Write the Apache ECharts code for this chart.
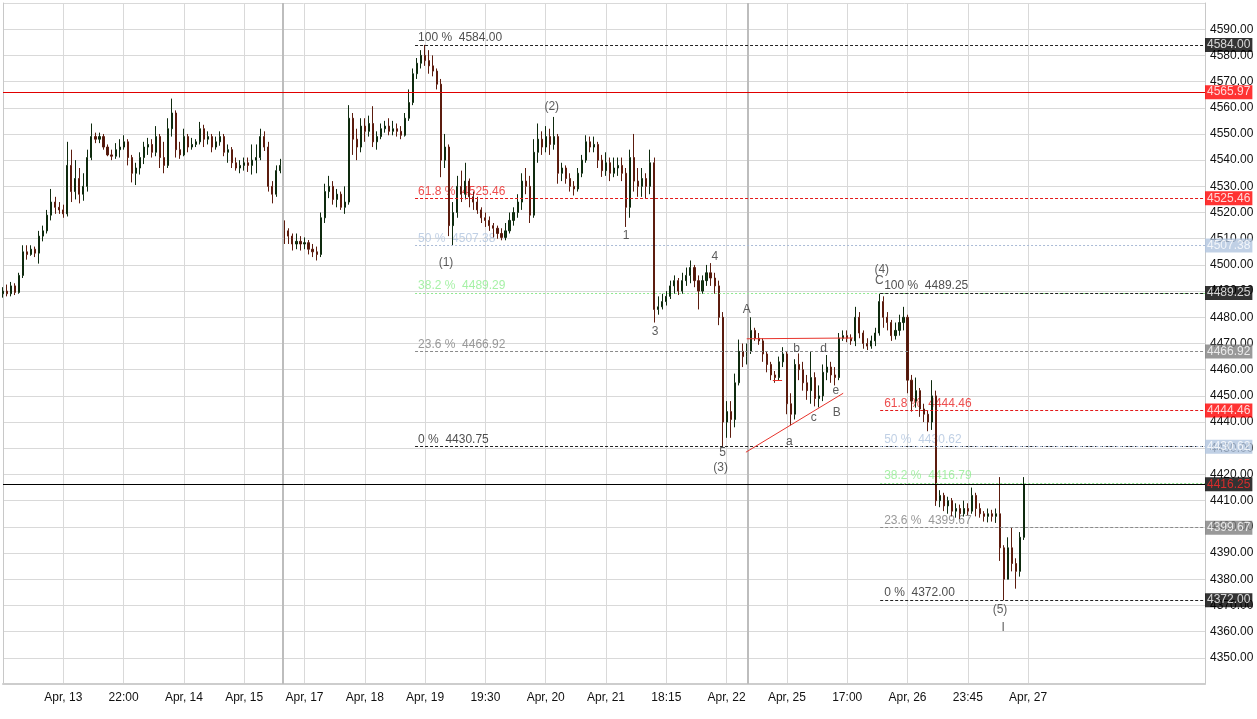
<!DOCTYPE html>
<html><head><meta charset="utf-8">
<script src="https://cdn.jsdelivr.net/npm/echarts@6.0.0/dist/echarts.min.js"></script>
<style>html,body{margin:0;padding:0;background:#fff;}#chart{width:1257px;height:719px;}</style>
</head><body><div id="chart"></div>
<script>
// ---- candle values (open, close, low, high), one bar per slot ----
const opens = [
4489,4490,4489,4492,4489.5,4496,4505,4504,4506,4504.5,
4511,4513,4519,4524,4522,4521,4519.5,4538,4528,4533,
4527,4530,4541,4549,4548,4549,4545,4542,4541.5,4544,
4545,4547,4541,4535,4537,4541,4545,4546,4543,4549,
4541,4538,4552,4558,4544,4542,4549,4545,4546,4547,
4552,4548,4549,4545,4547,4549,4543,4544,4539,4537,
4538,4539,4538,4540,4541,4549,4545,4530,4527,4536,
4516,4513,4511,4508,4509,4508,4508.5,4506,4505,4504,
4518,4528,4530,4525,4527,4522,4524,4556,4548,4545,
4553,4551,4554,4547,4549,4552,4553,4551,4552,4551,
4549.5,4556,4562,4573,4577,4580,4578,4576,4574,4569,
4540,4545,4515,4520,4530,4527,4532,4526,4524,4521,
4518,4517,4515,4514,4512,4510.5,4513,4517,4520,4524,
4532,4530,4519,4543,4548,4545,4549,4546,4549,4535,
4537,4533,4530,4529,4535,4540,4547,4545,4546,4540,
4536,4539,4535,4537,4538,4535,4522,4541,4532,4530,
4533,4530,4539,4483,4484,4486,4488,4492,4494,4490,
4494,4496,4499,4494,4490,4494,4497,4495,4492,4480,
4440,4444,4441,4455,4467,4465,4467,4475,4472,4471,
4466,4462,4458,4457,4463,4466,4447,4443,4462,4460,
4455,4452,4457,4449,4450,4459,4461,4458,4457,4472,
4473,4472,4471,4480,4474,4470,4469,4471,4474,4486,
4480,4478,4473,4475,4478,4480,4456,4448,4452,4445,
4443,4440,4450,4410,4412,4408,4410,4406,4407,4405,
4407,4406,4412,4407,4405,4404,4405,4404,4405,4392,
4380,4392,4386,4383,4396];
const closes = [
4490,4489,4492,4489.5,4496,4505,4504,4506,4504.5,4511,
4513,4519,4524,4522,4521,4519.5,4538,4528,4533,4527,
4530,4541,4549,4548,4549,4545,4542,4541.5,4544,4545,
4547,4541,4535,4537,4541,4545,4546,4543,4549,4541,
4538,4552,4558,4544,4542,4549,4545,4546,4547,4552,
4548,4549,4545,4547,4549,4543,4544,4539,4537,4538,
4539,4538,4540,4541,4549,4545,4530,4527,4536,4538,
4513,4511,4508,4509,4508,4508.5,4506,4505,4504,4518,
4528,4530,4525,4527,4522,4524,4556,4548,4545,4553,
4551,4554,4547,4549,4552,4553,4551,4552,4551,4549.5,
4556,4562,4573,4577,4580,4578,4576,4574,4569,4540,
4545,4515,4520,4530,4527,4532,4526,4524,4521,4518,
4517,4515,4514,4512,4510.5,4513,4517,4520,4524,4532,
4530,4519,4543,4548,4545,4549,4546,4549,4535,4537,
4533,4530,4529,4535,4540,4547,4545,4546,4540,4536,
4539,4535,4537,4538,4535,4522,4541,4532,4530,4533,
4530,4539,4483,4484,4486,4488,4492,4494,4490,4494,
4496,4499,4494,4490,4494,4497,4495,4492,4480,4440,
4444,4441,4455,4467,4465,4467,4475,4472,4471,4466,
4462,4458,4457,4463,4466,4447,4443,4462,4460,4455,
4452,4457,4449,4450,4459,4461,4458,4457,4472,4473,
4472,4471,4480,4474,4470,4469,4471,4474,4486,4480,
4478,4473,4475,4478,4480,4456,4448,4452,4445,4443,
4440,4450,4410,4412,4408,4410,4406,4407,4405,4407,
4406,4412,4407,4405,4404,4405,4404,4405,4392,4380,
4392,4386,4383,4396,4416.25];
const lows = [
4487.5,4488,4488,4488.5,4489,4495,4502,4503.5,4503,4500.5,
4509,4512,4517,4519.5,4519.5,4518,4518.5,4524,4525,4523.5,
4524.5,4528,4540,4546.5,4546.5,4544,4541.5,4540,4540.5,4541,
4544,4538,4531.5,4530.5,4534.5,4538.5,4542,4541,4541.5,4537,
4535,4537,4549,4541,4540.5,4541.5,4543,4544,4545,4546,
4545,4546,4543,4544,4545.5,4541.5,4539,4537,4536,4535,
4536,4535.5,4534.5,4535,4540,4543.5,4528,4523.5,4526,4535,
4508,4508,4505.5,4506,4505.5,4506,4504,4503,4501.7,4503,
4516,4525.5,4523,4522,4521,4519.5,4523,4542,4540,4543,
4547,4549,4545,4544,4548,4550.5,4549.5,4549.5,4549,4548,
4549,4555,4561,4571,4575,4576,4573,4572,4567,4533.5,
4537,4511,4507.4,4518,4524,4525,4522,4521,4519.5,4516,
4514.5,4513,4510.5,4510,4509.4,4509.4,4512,4515,4518,4521,
4527,4516,4518,4539,4542,4543,4542,4544,4531,4532,
4531,4528,4526.5,4528,4533.5,4539,4543,4543,4537,4533.6,
4534,4532,4533.5,4534,4532,4514.5,4518,4528,4526,4526,
4525.5,4527,4478,4481,4483,4484.5,4487,4489,4488.5,4489,
4492,4493,4491.5,4483,4489,4492,4492,4489,4477,4430.75,
4434,4434,4438,4454,4461,4462,4466,4471,4469.5,4463,
4459,4456,4455,4456,4461,4443,4438.7,4441,4456,4452,
4448.5,4447,4446,4445.6,4448,4456,4455,4454,4456,4471,
4470.5,4469.5,4469,4472,4468,4467.5,4468,4469,4473,4476,
4475,4471,4471.5,4473,4475,4451,4444,4445.5,4442,4440,
4436.5,4437,4408,4407.5,4406,4405,4404,4403.5,4403,4404,
4404.5,4405,4404,4403.5,4402,4401.7,4402,4401.5,4387,4372,
4380,4383,4376.4,4381,4395];
const highs = [
4491.5,4492.5,4493.5,4493,4497,4507.5,4507.5,4507.5,4507,4513,
4515,4521,4529,4526,4524,4523,4547,4544,4540,4537,
4535,4544,4554,4550.5,4550.5,4550,4546,4544,4546.5,4548,
4549.5,4548,4542,4539,4543,4547,4548.5,4548,4553,4550,
4547,4556,4563.5,4559,4547,4552,4550,4548.5,4548,4554.6,
4553.5,4551,4550,4549,4551,4550,4546,4545,4541,4540,
4541,4541,4546,4546,4552,4551,4547,4532,4538,4540.5,
4517,4514,4512,4512,4511,4510.5,4509.5,4508,4507,4520,
4531,4534,4532,4529,4528,4530,4561,4558,4552,4556,
4556,4557,4560.6,4551,4554,4555,4556,4555,4554,4553,
4558,4567,4575,4579,4582,4584,4582,4580,4575,4571,
4550,4546,4524,4534,4536,4539,4533,4528,4526,4522,
4520,4518.5,4516,4515,4514,4516,4520,4522,4527,4535,
4537,4534,4548,4554,4551,4553,4552,4556.5,4550,4539,
4538,4535,4532,4537,4542,4549.5,4549,4549,4547,4542,
4543,4541,4541,4541,4541,4537,4544,4550,4537,4537,
4535,4544,4541,4488,4489,4490,4494,4496,4495,4497,
4499,4501.7,4500,4496,4496,4500,4500.7,4497,4494,4482,
4448,4448,4458.5,4471.5,4470,4470,4480,4476,4474,4472,
4467,4463,4459.5,4465,4468.6,4467,4451,4464,4466.2,4463,
4458,4467,4459,4454,4462,4465.6,4463,4461,4474,4475,
4475,4473.5,4484,4482,4475,4472,4473,4476,4489.25,4488,
4482,4479,4478,4481,4484,4481,4458,4457,4453,4447,
4444.5,4456,4452,4414,4413,4411.5,4411,4409,4408.5,4410,
4409,4415,4413,4409,4406,4407,4406.5,4407,4419,4393,
4396,4399.6,4388,4398,4419];

// ---- time axis ----
const slotCount = 300;
const tickIndex = [15,30,45,60,75,90,105,120,135,150,165,180,195,210,225,240,255];
const tickLabels = ['Apr, 13','22:00','Apr, 14','Apr, 15','Apr, 17','Apr, 18','Apr, 19','19:30','Apr, 20','Apr, 21','18:15','Apr, 22','Apr, 25','17:00','Apr, 26','23:45','Apr, 27'];
const sessionBreaks = [69.5, 185.3];

// ---- levels ----
const resistance = 4565.97;
const lastPrice = 4416.25;
const fibPct = ['100','61.8','50','38.2','23.6','0'];
const fibSet1 = [4584.00, 4525.46, 4507.38, 4489.29, 4466.92, 4430.75];
const fibSet2 = [4489.25, 4444.46, 4430.62, 4416.79, 4399.67, 4372.00];
const fibStart1 = 102.5, fibStart2 = 218.2;
const fibLineColor = ['#222222','#e31a1a','#aabbd6','#90e890','#8a8a8a','#222222'];
const fibTextColor = ['#222222','#e82020','#b0c4de','#90ee90','#808080','#222222'];
const fibDash = [[3,2],[3,2],[2,2],[2,2],[3,2],[3,2]];

const priceTags = [4584.00, 4565.97, 4525.46, 4507.38, 4489.25, 4466.92, 4444.46, 4430.62, 4416.25, 4399.67, 4372.00];
const tagBg = ['#000000','#ff0000','#ff0000','#b0c4de','#000000','#808080','#ff0000','#b0c4de','#000000','#808080','#000000'];
const tagFg = ['#ffffff','#ffffff','#ffffff','#ffffff','#ffffff','#ffffff','#ffffff','#ffffff','#ff2a2a','#ffffff','#ffffff'];

// ---- wave annotations ----
const waveText = ['(1)','(2)','1','3','4','5','(3)','A','a','b','c','d','e','B','(4)','C','(5)','I'];
const waveX = [110.2,136.5,155.0,162.2,177.1,179.0,178.5,185.0,195.6,197.4,201.7,204.1,207.2,207.4,218.6,218.0,248.0,248.8];
const waveY = [4500.85,4560.3,4511.3,4474.7,4503.3,4428.5,4422.5,4482.9,4432.7,4468.0,4441.6,4468.0,4451.8,4443.4,4498.2,4494.1,4368.3,4361.6];
const trendFrom = [[185.0,4471.8],[191.5,4455.9],[184.8,4428.5]];
const trendTo = [[211.4,4472.1],[193.8,4455.9],[209.0,4451.0]];

// ---- build ----
const FONT = 'Liberation Sans, Arial, sans-serif';
const categories = [];
for (let i = 0; i < slotCount; i++) categories.push(String(i));
const candleData = opens.map((o, i) => [o, closes[i], lows[i], highs[i]]);

const levelLines = [];
levelLines.push({yAxis: resistance, lineStyle:{color:'#e00000', type:'solid', width:1}});
levelLines.push({yAxis: lastPrice, lineStyle:{color:'#000000', type:'solid', width:1}});
function addFib(set, start) {
  set.forEach((v, k) => {
    levelLines.push([
      {coord:[start, v], lineStyle:{color: fibLineColor[k], type: fibDash[k], width:1}},
      {coord:[slotCount - 1, v]}
    ]);
  });
}
addFib(fibSet1, fibStart1);
addFib(fibSet2, fibStart2);
trendFrom.forEach((p, k) => {
  levelLines.push([{coord:p, lineStyle:{color:'#e8342c', type:'solid', width:1}}, {coord:trendTo[k]}]);
});

const fibTexts = [];
function addFibText(set, start, dist) {
  set.forEach((v, k) => {
    fibTexts.push({value:[start, v], label:{formatter: fibPct[k] + ' %  ' + v.toFixed(2), color: fibTextColor[k], distance: dist}});
  });
}
addFibText(fibSet1, fibStart1, 3);
addFibText(fibSet2, fibStart2, 4);

const waveData = waveText.map((t, k) => ({value:[waveX[k], waveY[k]], name:t}));
const tagData = priceTags.map((v, k) => ({value:[slotCount - 1, v], label:{backgroundColor: tagBg[k], color: tagFg[k]}}));

const chart = echarts.init(document.getElementById('chart'), null, {renderer:'canvas'});
chart.setOption({
  animation:false,
  backgroundColor:'#ffffff',
  textStyle:{fontFamily: FONT},
  grid:{left:3, right:52, top:3, bottom:35, containLabel:false, outerBoundsMode:'none'},
  xAxis:[{
    type:'category', data:categories, boundaryGap:false,
    axisLine:{show:true, onZero:false, lineStyle:{color:'#cdcdcd', width:2}},
    axisTick:{show:false},
    axisLabel:{interval:(i)=>tickIndex.indexOf(i) >= 0, formatter:(v, i)=>{const k = tickIndex.indexOf(Number(v)); return k >= 0 ? tickLabels[k] : '';}, color:'#111', fontSize:12, fontFamily:FONT, margin:8},
    splitLine:{show:true, interval:(i)=>tickIndex.indexOf(i) >= 0, lineStyle:{color:'#d9d9d9', width:1}}
  },{
    type:'value', min:0, max:slotCount - 1, show:false
  }],
  yAxis:[{
    type:'value', position:'right', min:4340, max:4600, interval:10, scale:true,
    axisLine:{show:true, onZero:false, lineStyle:{color:'#c8c8c8'}},
    axisTick:{show:false},
    axisLabel:{color:'#111', fontSize:12, fontFamily:FONT, margin:5, showMinLabel:false, showMaxLabel:false, formatter:(v)=>v.toFixed(2)},
    splitLine:{show:true, lineStyle:{color:'#d9d9d9', width:1}}
  },{
    type:'value', position:'left', min:4340, max:4600, scale:true,
    axisLine:{show:true, onZero:false, lineStyle:{color:'#c8c8c8'}},
    axisTick:{show:false}, axisLabel:{show:false}, splitLine:{show:false}
  }],
  series:[
    {
      name:'breaks', type:'scatter', xAxisIndex:1, yAxisIndex:0, z:1, symbolSize:0, data:[[0, 4340]], silent:true,
      markLine:{symbol:['none','none'], silent:true, label:{show:false},
        data: sessionBreaks.map(b => ({xAxis:b, lineStyle:{color:'#bdbdbd', width:2, type:'solid'}}))}
    },
    {
      name:'fibText', type:'scatter', xAxisIndex:1, yAxisIndex:0, z:1, symbolSize:0, silent:true,
      data: fibTexts,
      label:{show:true, position:'right', offset:[0,-7], fontSize:12, fontFamily:FONT}
    },
    {
      name:'price', type:'candlestick', xAxisIndex:0, yAxisIndex:0, z:3, data:candleData,
      barWidth:1.6,
      itemStyle:{color:'#163a16', color0:'#4a170c', borderColor:'#0e2a0e', borderColor0:'#5c1c0e', borderWidth:1}
    },
    {
      name:'levels', type:'scatter', xAxisIndex:1, yAxisIndex:0, z:4, symbolSize:0, data:[[0, 4340]], silent:true,
      markLine:{symbol:['none','none'], silent:true, label:{show:false}, data: levelLines}
    },
    {
      name:'waves', type:'scatter', xAxisIndex:1, yAxisIndex:0, z:5, symbolSize:0, silent:true,
      data: waveData,
      label:{show:true, position:'inside', formatter:(p)=>p.name, color:'#333333', fontSize:12, fontFamily:FONT}
    },
    {
      name:'tags', type:'scatter', xAxisIndex:1, yAxisIndex:0, z:10, symbolSize:0, silent:true, clip:false,
      data: tagData,
      label:{show:true, position:'right', distance:0, formatter:(p)=>p.value[1].toFixed(2), fontSize:12, fontFamily:FONT, padding:[1,2,0,2], lineHeight:13}
    }
  ]
});
</script>
</body></html>
